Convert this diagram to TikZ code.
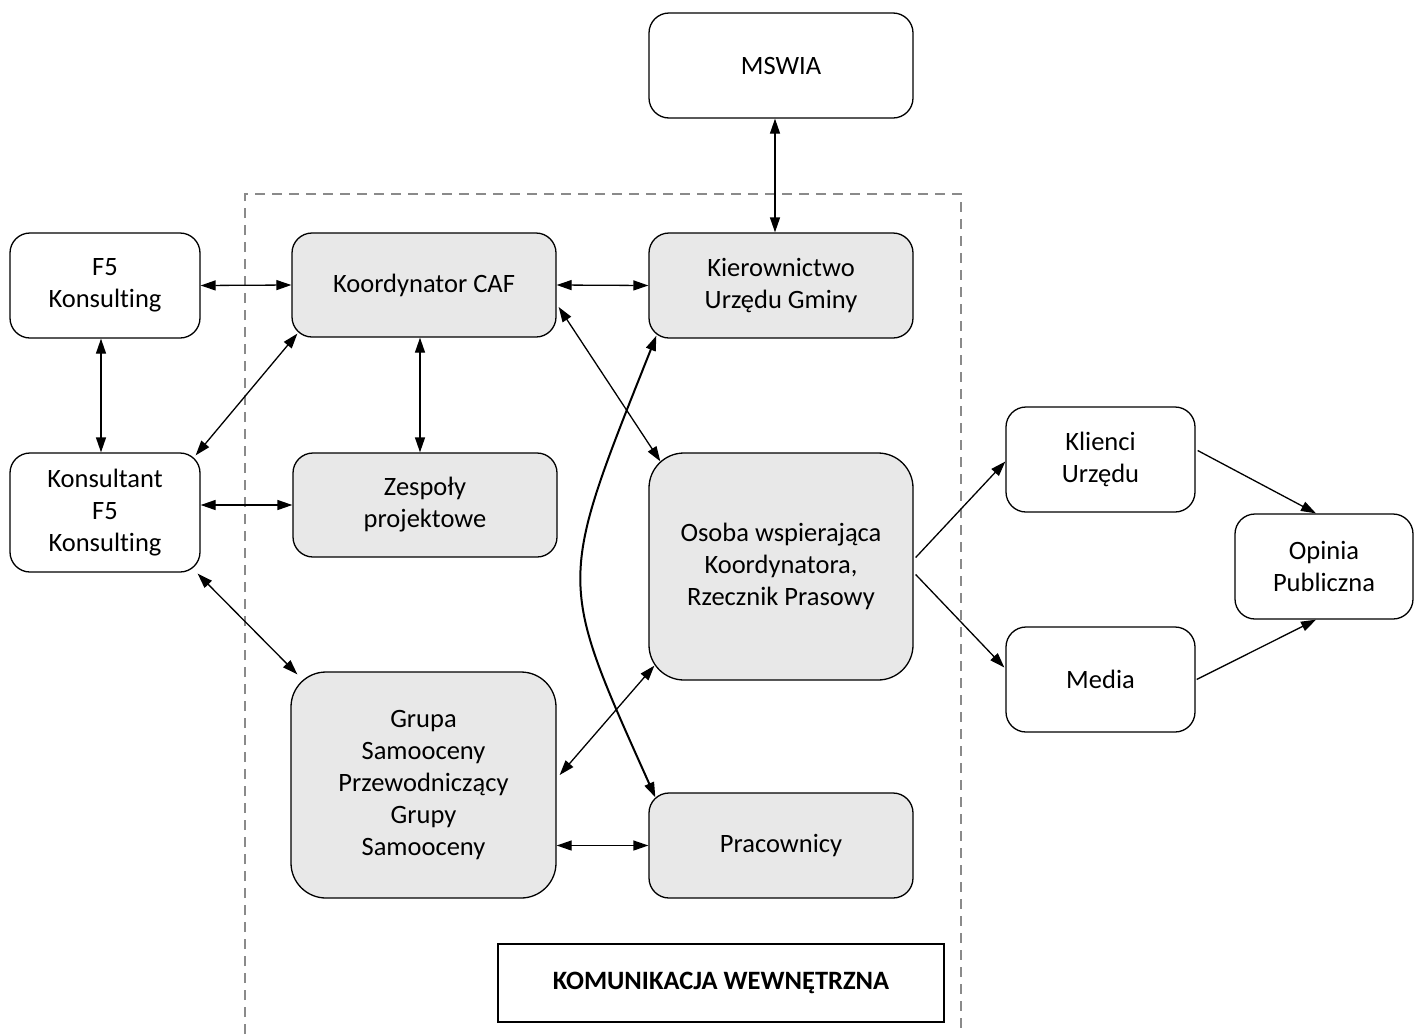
\documentclass[tikz,border=0pt]{standalone}
\usepackage{fontspec}
\setmainfont{Carlito}[Ligatures=NoCommon]
\usetikzlibrary{arrows.meta}
\definecolor{boxgray}{HTML}{E8E8E8}
\definecolor{dashgray}{HTML}{8A8A8A}
\tikzset{
  every node/.style={font=\fontsize{26.5}{32}\selectfont},
  box/.style={draw=black, line width=1.3pt, rectangle, rounded corners=20pt, align=center, inner sep=0pt, fill=white},
  inbox/.style={box, fill=boxgray},
  bigbox/.style={inbox, rounded corners=35pt},
  conn/.style={line width=1.3pt, {Triangle[length=15pt,width=10pt]}-{Triangle[length=15pt,width=10pt]}},
  oneway/.style={line width=1.3pt, -{Triangle[length=15pt,width=10pt]}},
}
\begin{document}
\begin{tikzpicture}[x=1pt, y=-1pt]
\useasboundingbox (0,0) rectangle (1415,1034);
% dashed frame
\draw[dashgray, line width=2.2pt, dash pattern=on 10pt off 7pt] (245,1034) -- (245,194) -- (961,194) -- (961,1034);
% nodes
\node[box, minimum width=190pt, minimum height=105pt] (f5) at (105,285.5) {F5\\Konsulting};
\node[box, minimum width=190pt, minimum height=119pt] (kons) at (105,512.5) {Konsultant\\F5\\Konsulting};
\node[inbox, minimum width=264pt, minimum height=104pt] (koord) at (424,285) {Koordynator CAF};
\node[inbox, minimum width=264pt, minimum height=104pt] (zesp) at (425,505) {Zespoły\\projektowe};
\node[bigbox, minimum width=265pt, minimum height=226pt] (grupa) at (423.5,785) {Grupa\\Samooceny\\Przewodniczący\\Grupy\\Samooceny};
\node[box, minimum width=264pt, minimum height=105pt] (mswia) at (781,65.5) {MSWIA};
\node[inbox, minimum width=264pt, minimum height=105pt] (kier) at (781,285.5) {Kierownictwo\\Urzędu Gminy};
\node[bigbox, minimum width=264pt, minimum height=227pt] (osoba) at (781,566.5) {Osoba wspierająca\\Koordynatora,\\Rzecznik Prasowy};
\node[inbox, minimum width=264pt, minimum height=105pt] (prac) at (781,845.5) {Pracownicy};
\node[box, minimum width=189pt, minimum height=105pt] (klienci) at (1100.5,459.5) {Klienci\\Urzędu};
\node[box, minimum width=189pt, minimum height=105pt] (media) at (1100.5,679.5) {Media};
\node[box, minimum width=178pt, minimum height=105pt] (opinia) at (1324,566.5) {Opinia\\Publiczna};
\node[draw=black, line width=2pt, rectangle, minimum width=446pt, minimum height=78pt, inner sep=0pt, fill=white, font=\fontsize{26.5}{32}\selectfont\bfseries] (kom) at (721,983) {KOMUNIKACJA WEWNĘTRZNA};
% connectors
\draw[conn] (f5.east) -- (koord.west);
\draw[conn] ([shift={(-4,0)}]f5.south) -- ([shift={(-4,0)}]kons.north);
\draw[conn] ([shift={(-5,3)}]kons.north east) -- ([shift={(6,-4)}]koord.south west);
\draw[conn] (zesp.west -| kons.east) -- (zesp.west);
\draw[conn] ([shift={(-3,1)}]kons.south east) -- ([shift={(7,3)}]grupa.north west);
\draw[conn] ([shift={(-4,0)}]koord.south) -- ([shift={(-5,0)}]zesp.north);
\draw[conn] (koord.east) -- (kier.west);
\draw[conn] ([shift={(-6,0)}]mswia.south) -- ([shift={(-6,0)}]kier.north);
\draw[conn] ([shift={(2,22)}]koord.east) -- ([shift={(12,9)}]osoba.north west);
\draw[conn] ([shift={(3,-10)}]grupa.east) -- ([shift={(6,-15)}]osoba.south west);
\draw[conn] (prac.west -| grupa.east) -- (prac.west);
\draw[line width=2pt, {Triangle[length=15pt,width=10pt]}-{Triangle[length=15pt,width=10pt]}]
  ([shift={(8,-3)}]kier.south west) .. controls (557,585) and (557,578) .. ([shift={(7,5)}]prac.north west);
\draw[oneway] ([shift={(2,-9)}]osoba.east) -- ([shift={(0,2)}]klienci.west);
\draw[oneway] ([shift={(2,8)}]osoba.east) -- ([shift={(-1,-12)}]media.west);
\draw[oneway] ([shift={(2,-9)}]klienci.east) -- ([shift={(-8,0)}]opinia.north);
\draw[oneway] ([shift={(1,0)}]media.east) -- ([shift={(-8,0)}]opinia.south);
\end{tikzpicture}
\end{document}
